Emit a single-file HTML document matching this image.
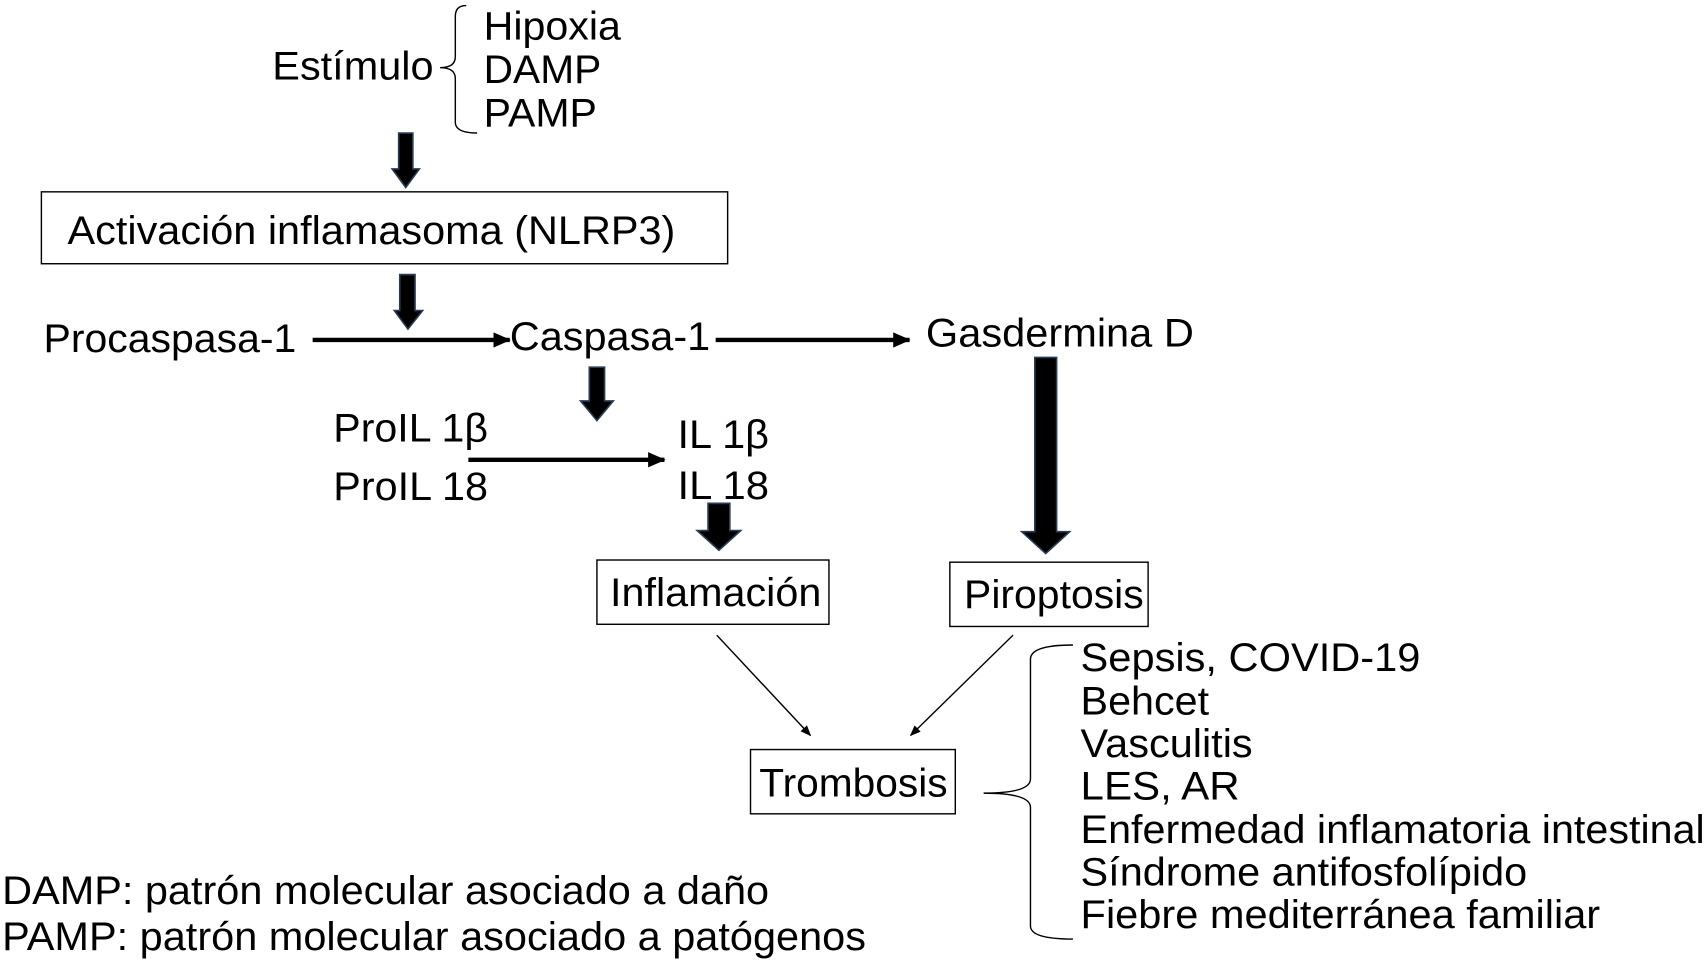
<!DOCTYPE html>
<html><head><meta charset="utf-8"><style>
html,body{margin:0;padding:0;background:#fff;}
svg{display:block;}
text{font-family:"Liberation Sans",Arial,sans-serif;font-size:37px;fill:#000;}
</style></head><body>
<svg width="1708" height="961" viewBox="0 0 1568 882" xmlns="http://www.w3.org/2000/svg">
<defs>
<marker id="ah" markerWidth="10" markerHeight="8" refX="9" refY="4" orient="auto" markerUnits="userSpaceOnUse">
<path d="M0,0 L10,4 L0,8 z" fill="#000"/></marker>
<marker id="ahb" markerWidth="16" markerHeight="14" refX="15" refY="7" orient="auto" markerUnits="userSpaceOnUse">
<path d="M0,0 L16,7 L0,14 z" fill="#000"/></marker>
</defs>
<g>
<text x="250" y="73" textLength="148" lengthAdjust="spacingAndGlyphs">Estímulo</text>
<path d="M428,5 Q418,5 418,15 L418,52 Q418,62 404,62 Q418,62 418,72 L418,112 Q418,122 438,122" fill="none" stroke="#000" stroke-width="1.3"/>
<text x="444" y="36" textLength="126" lengthAdjust="spacingAndGlyphs">Hipoxia</text>
<text x="444" y="76" textLength="108" lengthAdjust="spacingAndGlyphs">DAMP</text>
<text x="444" y="116" textLength="104" lengthAdjust="spacingAndGlyphs">PAMP</text>
</g>
<g fill="#000" stroke="#2a3d55" stroke-width="1.5">
<path d="M366,122 L379,122 L379,155 L385,155 L372.5,172 L360,155 L366,155 z"/>
<path d="M367,252 L381,252 L381,285 L388,285 L374.5,302 L362,285 L367,285 z"/>
<path d="M541,337 L555,337 L555,368 L563,368 L548,386 L533,368 L541,368 z"/>
<path d="M650,462 L670,462 L670,487 L680,487 L660,505 L640,487 L650,487 z"/>
<path d="M950,328 L970,328 L970,488 L982,488 L960,508 L938,488 L950,488 z"/>
</g>
<rect x="38" y="176" width="630" height="66" fill="none" stroke="#000" stroke-width="1.3"/>
<text x="62" y="224" textLength="558" lengthAdjust="spacingAndGlyphs">Activación inflamasoma (NLRP3)</text>
<text x="40" y="323" textLength="232" lengthAdjust="spacingAndGlyphs">Procaspasa-1</text>
<line x1="287" y1="312" x2="468" y2="312" stroke="#000" stroke-width="4" marker-end="url(#ahb)"/>
<text x="468" y="321" textLength="184" lengthAdjust="spacingAndGlyphs">Caspasa-1</text>
<line x1="657" y1="312" x2="835" y2="312" stroke="#000" stroke-width="4" marker-end="url(#ahb)"/>
<text x="850" y="318" textLength="246" lengthAdjust="spacingAndGlyphs">Gasdermina D</text>
<text x="306" y="405" textLength="142" lengthAdjust="spacingAndGlyphs">ProIL 1β</text>
<text x="306" y="459" textLength="142" lengthAdjust="spacingAndGlyphs">ProIL 18</text>
<line x1="430" y1="422" x2="610" y2="422" stroke="#000" stroke-width="4" marker-end="url(#ahb)"/>
<text x="622" y="411" textLength="84" lengthAdjust="spacingAndGlyphs">IL 1β</text>
<text x="622" y="458" textLength="84" lengthAdjust="spacingAndGlyphs">IL 18</text>
<rect x="548" y="514" width="213" height="59" fill="none" stroke="#000" stroke-width="1.3"/>
<text x="560" y="556" textLength="194" lengthAdjust="spacingAndGlyphs">Inflamación</text>
<rect x="872" y="516" width="182" height="59" fill="none" stroke="#000" stroke-width="1.3"/>
<text x="885" y="558" textLength="165" lengthAdjust="spacingAndGlyphs">Piroptosis</text>
<line x1="658" y1="583" x2="744" y2="675" stroke="#000" stroke-width="1.3" marker-end="url(#ah)"/>
<line x1="930" y1="583" x2="836" y2="675" stroke="#000" stroke-width="1.3" marker-end="url(#ah)"/>
<rect x="689" y="688" width="188" height="59" fill="none" stroke="#000" stroke-width="1.3"/>
<text x="697" y="731" textLength="173" lengthAdjust="spacingAndGlyphs">Trombosis</text>
<path d="M985,592 Q946,592 946,605 L946,715 Q946,728 903,728 Q946,728 946,741 L946,850 Q946,862 985,862" fill="none" stroke="#000" stroke-width="1.3"/>
<text x="992" y="616" textLength="312" lengthAdjust="spacingAndGlyphs">Sepsis, COVID-19</text>
<text x="992" y="656" textLength="118" lengthAdjust="spacingAndGlyphs">Behcet</text>
<text x="992" y="695" textLength="158" lengthAdjust="spacingAndGlyphs">Vasculitis</text>
<text x="992" y="734" textLength="146" lengthAdjust="spacingAndGlyphs">LES, AR</text>
<text x="992" y="774" textLength="573" lengthAdjust="spacingAndGlyphs">Enfermedad inflamatoria intestinal</text>
<text x="992" y="813" textLength="410" lengthAdjust="spacingAndGlyphs">Síndrome antifosfolípido</text>
<text x="992" y="852" textLength="477" lengthAdjust="spacingAndGlyphs">Fiebre mediterránea familiar</text>
<text x="2" y="830" textLength="704" lengthAdjust="spacingAndGlyphs">DAMP: patrón molecular asociado a daño</text>
<text x="2" y="872" textLength="793" lengthAdjust="spacingAndGlyphs">PAMP: patrón molecular asociado a patógenos</text>
</svg>
</body></html>
